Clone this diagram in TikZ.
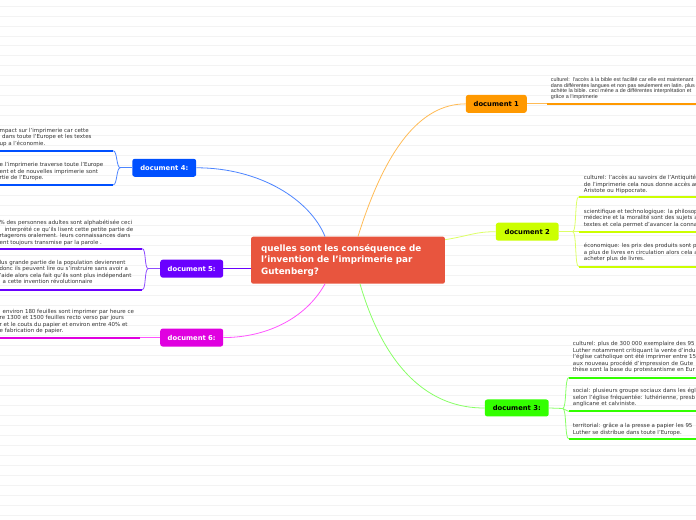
\documentclass[tikz,border=0pt]{standalone}
\usepackage{fontspec}
\setmainfont{DejaVu Sans}
\newfontfamily\arialf{Liberation Sans}
\definecolor{cent}{HTML}{E8553E}
\definecolor{orA}{HTML}{FF9900}
\definecolor{orL}{HTML}{FFBB55}
\definecolor{limeA}{HTML}{CCFF00}
\definecolor{limeL}{HTML}{DDFF66}
\definecolor{grnA}{HTML}{33FF00}
\definecolor{grnL}{HTML}{88FF66}
\definecolor{bluA}{HTML}{0050FF}
\definecolor{bluL}{HTML}{4D85FF}
\definecolor{purA}{HTML}{6A00FF}
\definecolor{purL}{HTML}{8F4DFF}
\definecolor{magA}{HTML}{E000E0}
\definecolor{magL}{HTML}{FF55FF}
\definecolor{txtgray}{HTML}{333333}
\definecolor{bgl}{HTML}{F3F3F3}
\begin{document}
\begin{tikzpicture}[x=1pt,y=-1pt,
  docnode/.style={rounded corners=2.5pt, inner sep=0pt, minimum height=18pt,
    font=\fontsize{6.8}{8}\selectfont\bfseries},
  txt/.style={anchor=north west, inner sep=0pt, align=left, text=txtgray,
    font=\fontsize{5.5}{6.5}\selectfont, yshift=3.06pt},
  txtA/.style={anchor=north west, inner sep=0pt, align=left, text=txtgray,
    font=\arialf\fontsize{5.4}{5.5}\selectfont, yshift=2.4pt},
  thinln/.style={line width=0.8pt},
  thickln/.style={line width=2pt},
  bgline/.style={bgl, line width=0.9pt}]
\fill[white] (0,0) rectangle (696,520);
\foreach \k in {0,...,51} \draw[bgline] (0,6+10*\k) -- (696,6+10*\k);
\useasboundingbox (0,0) rectangle (696,520);

% central node
\node[fill=cent, text=white, text width=174pt, align=left, inner xsep=10pt, inner ysep=0pt,
  minimum height=47pt, rounded corners=2pt, font=\fontsize{8.8}{11.3}\selectfont\bfseries]
  (c) at (348,260.5) {quelles sont les conséquence de\\l'invention de l'imprimerie par\\Gutenberg?};

% document nodes
\node[docnode, fill=orA, minimum width=61pt] (d1) at (496.5,104) {document 1};
\node[docnode, fill=limeA, minimum width=63pt] (d2) at (527.5,232) {document 2};
\node[docnode, fill=grnA, minimum width=64pt, minimum height=17pt] (d3) at (517,408.5) {document 3:};
\node[docnode, fill=bluA, text=white, minimum width=64pt] (d4) at (164,168) {document 4:};
\node[docnode, fill=purA, text=white, minimum width=63pt] (d5) at (191.5,269) {document 5:};
\node[docnode, fill=magA, text=white, minimum width=63pt] (d6) at (191.5,338) {document 6:};

% connectors from centre
\draw[thinln, orL] ([xshift=10pt]c.north) .. controls (385,150) and (420,104) .. (d1.west);
\draw[thinln, limeL] ([yshift=20.5pt]c.east) .. controls (470,236) and (475,232) .. (d2.west);
\draw[thinln, grnL] ([xshift=12pt]c.south) .. controls (385,370) and (430,409) .. (d3.west);
\draw[thinln, bluL] ([xshift=-23pt]c.north) .. controls (310,200) and (260,168) .. (d4.east);
\draw[thinln, purA] ([yshift=-8.5pt]c.west) -- (d5.east);
\draw[thinln, magL] ([xshift=-23pt]c.south) .. controls (305,320) and (265,338) .. (d6.east);

% document 1 branch
\coordinate (b1) at (547,104); \coordinate (e1) at (700,104);
\draw[thinln, orL] (d1.east) -- (b1);
\draw[thickln, orA] (b1) -- (e1);
\node[txtA] (t1) at (551,80.2) {culturel:\ \ l'accès à la bible est facilité car elle est maintenant\\dans différentes langues et non pas seulement en latin. plus\\achète la bible. ceci mène a de différentes interprétation et\\grâce a l'imprimerie};

% document 2 branches
\coordinate (j2) at (573,232);
\coordinate (b21) at (579,197); \coordinate (e21) at (700,197);
\coordinate (b22) at (579,232); \coordinate (e22) at (700,232);
\coordinate (b23) at (579,267); \coordinate (e23) at (700,267);
\draw[thinln, limeL] (d2.east) -- (j2);
\draw[thinln, limeL] (j2) .. controls (577,232) and (575,197) .. (b21);
\draw[thinln, limeL] (j2) -- (b22);
\draw[thinln, limeL] (j2) .. controls (577,232) and (575,267) .. (b23);
\draw[thickln, limeA] (b21) -- (e21);
\draw[thickln, limeA] (b22) -- (e22);
\draw[thickln, limeA] (b23) -- (e23);
\node[txt] (t21) at (584,178.3) {culturel: l'accès au savoirs de l'Antiquité\\de l'imprimerie cela nous donne accès au\\Aristote ou Hippocrate.};
\node[txt] (t22) at (584,212.3) {scientifique et technologique: la philosophie\\médecine et la moralité sont des sujets a\\textes et cela permet d'avancer la connaissance};
\node[txt] (t23) at (584,246.3) {économique: les prix des produits sont p\\a plus de livres en circulation alors cela a\\acheter plus de livres.};

% document 3 branches
\coordinate (j3) at (563,409);
\coordinate (b31) at (569,378); \coordinate (e31) at (700,378);
\coordinate (b32) at (569,412); \coordinate (e32) at (700,412);
\coordinate (b33) at (569,439.5); \coordinate (e33) at (700,439.5);
\draw[thinln, grnL] (d3.east) -- (j3);
\draw[thinln, grnL] (j3) .. controls (567,409) and (565,378) .. (b31);
\draw[thinln, grnL] (j3) .. controls (567,409) and (565,412) .. (b32);
\draw[thinln, grnL] (j3) .. controls (567,409) and (565,439.5) .. (b33);
\draw[thickln, grnA] (b31) -- (e31);
\draw[thickln, grnA] (b32) -- (e32);
\draw[thickln, grnA] (b33) -- (e33);
\node[txt] (t31) at (573,345) {culturel: plus de 300 000 exemplaire des 95\\Luther notamment critiquant la vente d'indu\\l'église catholique ont été imprimer entre 15\\aux nouveau procédé d'impression de Gute\\thèse sont la base du protestantisme en Eur};
\node[txt] (t32) at (573,391.7) {social: plusieurs groupe sociaux dans les égl\\selon l'église fréquentée: luthérienne, presb\\anglicane et calviniste.};
\node[txt] (t33) at (573,426.7) {territorial: grâce a la presse a papier les 95\\Luther se distribue dans toute l'Europe.};

% document 4 branches
\coordinate (j4) at (120,168);
\coordinate (b41) at (113,151); \coordinate (e41) at (-5,151);
\coordinate (b42) at (113,185); \coordinate (e42) at (-5,185);
\draw[thinln, bluL] (d4.west) -- (j4);
\draw[thinln, bluL] (j4) .. controls (116,168) and (117,151) .. (b41);
\draw[thinln, bluL] (j4) .. controls (116,168) and (117,185) .. (b42);
\draw[thickln, bluA] (b41) -- (e41);
\draw[thickln, bluA] (b42) -- (e42);
\node[txt] (t41) at (-1,131) {mpact sur l'imprimerie car cette\\\hspace*{2.5pt}dans toute l'Europe et les textes\\up a l'économie.};
\node[txt] (t42) at (-1,165.7) {e l'imprimerie traverse toute l'Europe\\ent et de nouvelles imprimerie sont\\rtie de l'Europe.};

% document 5 branches
\coordinate (j5) at (148,269);
\coordinate (b51) at (142,249); \coordinate (e51) at (-5,249);
\coordinate (b52) at (142,290); \coordinate (e52) at (-5,290);
\draw[thinln, purL] (d5.west) -- (j5);
\draw[thinln, purL] (j5) .. controls (144,269) and (146,249) .. (b51);
\draw[thinln, purL] (j5) .. controls (144,269) and (146,290) .. (b52);
\draw[thickln, purA] (b51) -- (e51);
\draw[thickln, purA] (b52) -- (e52);
\node[txt] (t51) at (-1,223.3) {\% des personnes adultes sont alphabétisée ceci\\\hspace*{5pt}interprété ce qu'ils lisent cette petite partie de\\rtagerons oralement. leurs connaissances dans\\ent toujours transmise par la parole .};
\node[txt] (t52) at (-1,263.3) {lus grande partie de la population deviennent\\donc ils peuvent lire ou s'instruire sans avoir a\\'aide alors cela fait qu'ils sont plus indépendant\\\hspace*{3pt}a cette invention révolutionnaire};

% document 6 branch
\coordinate (b6) at (140,338); \coordinate (e6) at (-5,338);
\draw[thinln, magL] (d6.west) -- (b6);
\draw[thickln, magA] (b6) -- (e6);
\node[txt] (t6) at (-1,312.3) {\hspace*{3pt}environ 180 feuilles sont imprimer par heure ce\\re 1300 et 1500 feuilles recto verso par jours\\r et le couts du papier et environ entre 40\% et\\e fabrication de papier.};
\end{tikzpicture}
\end{document}
